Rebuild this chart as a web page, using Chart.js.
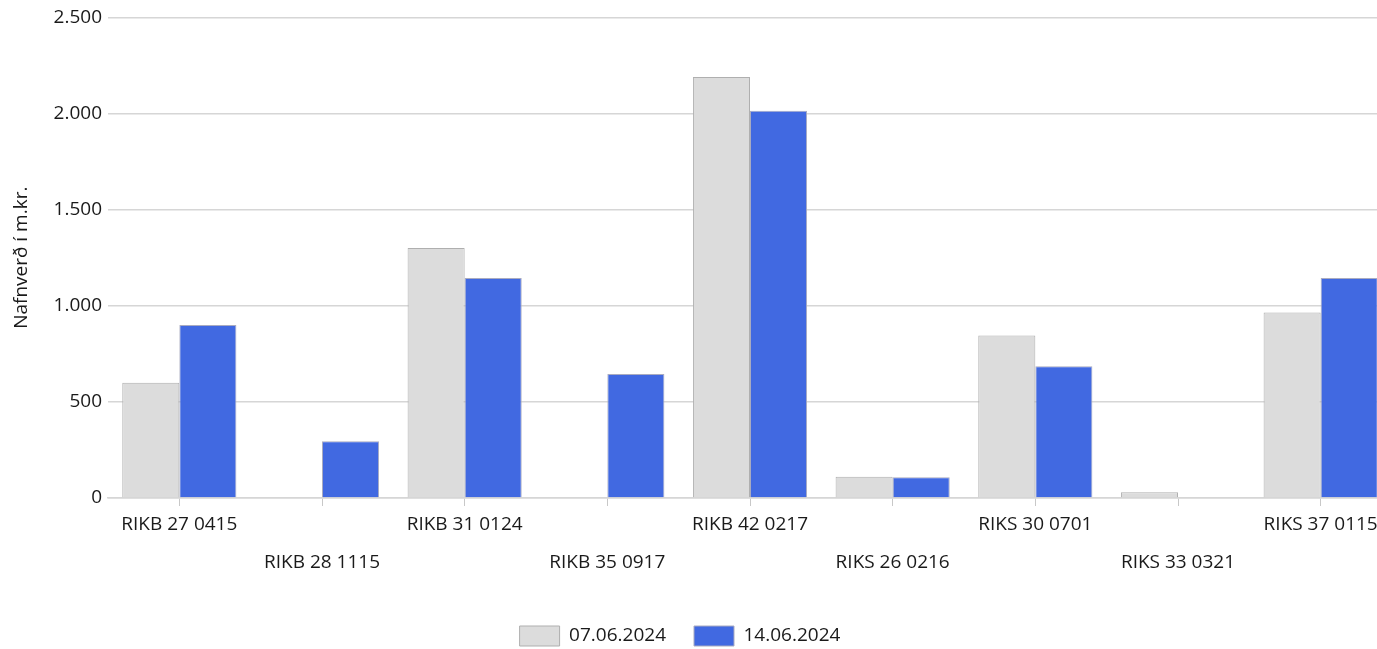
<!DOCTYPE html>
<html>
<head>
<meta charset="utf-8">
<script src="https://cdn.jsdelivr.net/npm/chart.js@4/dist/chart.umd.min.js"></script>
<style>
  html, body { margin: 0; padding: 0; background: #fff; overflow: hidden; }
  #wrap { width: 1377px; height: 649px; overflow: hidden; }
  #box { width: 1392px; height: 649px; position: relative; }
</style>
</head>
<body>
<div id="wrap"><div id="box"><canvas id="chart"></canvas></div></div>
<script>
const categories = [
  "RIKB 27 0415", "RIKB 28 1115", "RIKB 31 0124", "RIKB 35 0917", "RIKB 42 0217",
  "RIKS 26 0216", "RIKS 30 0701", "RIKS 33 0321", "RIKS 37 0115"
];
const seriesNames = ["07.06.2024", "14.06.2024"];
const valuesJun07 = [600, null, 1300, null, 2190, 110, 845, 30, 965];
const valuesJun14 = [900, 295, 1145, 645, 2015, 108, 685, null, 1145];
const yTicks = [0, 500, 1000, 1500, 2000, 2500];

const font = "'Open Sans', 'DejaVu Sans', sans-serif";
const textColor = "#1a1a1a";
const gridColor = "#d6d6d6";

// staggered category labels: every other one drops to a second row
const labels = categories.map((c, i) => i % 2 ? ["", c] : c);

const fmt = v => String(v).replace(/\B(?=(\d{3})+(?!\d))/g, ".");

// legend sits centred on the visible 1377px width, not the wider canvas
const shiftLegend = {
  id: "shiftLegend",
  afterLayout(chart) {
    const lg = chart.legend;
    if (!lg) return;
    lg.left -= 16;
    lg.right -= 16;
  }
};

new Chart(document.getElementById("chart"), {
  type: "bar",
  data: {
    labels,
    datasets: [
      {
        label: seriesNames[0],
        data: valuesJun07,
        backgroundColor: "#dcdcdc",
        borderColor: "#afafaf",
        borderWidth: 1
      },
      {
        label: seriesNames[1],
        data: valuesJun14,
        backgroundColor: "#4169e1",
        borderColor: "#a9abc0",
        borderWidth: 1
      }
    ]
  },
  plugins: [shiftLegend],
  options: {
    responsive: true,
    maintainAspectRatio: false,
    animation: false,
    layout: { padding: { top: 17, left: 0, right: 0, bottom: -7 } },
    datasets: {
      bar: { categoryPercentage: 0.8, barPercentage: 1 }
    },
    plugins: {
      tooltip: { enabled: false },
      legend: {
        position: "bottom",
        labels: {
          boxWidth: 40,
          boxHeight: 20,
          padding: 28,
          color: textColor,
          font: { family: font, size: 19 }
        }
      }
    },
    scales: {
      x: {
        offset: true,
        afterFit: s => { s.height = 100; },
        grid: {
          offset: false,
          drawOnChartArea: false,
          drawTicks: true,
          tickLength: 8,
          color: "#c8c8c8"
        },
        border: { display: true, color: gridColor, width: 1.5 },
        ticks: {
          autoSkip: false,
          maxRotation: 0,
          minRotation: 0,
          padding: 0,
          color: textColor,
          font: { family: font, size: 19, lineHeight: 2 }
        }
      },
      y: {
        min: 0,
        max: 2500,
        afterBuildTicks: s => { s.ticks = yTicks.map(v => ({ value: v })); },
        afterFit: s => { s.width = 108; },
        grid: { color: gridColor, lineWidth: 1.5, drawTicks: false },
        border: { display: false },
        ticks: {
          padding: 6,
          color: textColor,
          font: { family: font, size: 19 },
          callback: v => fmt(v)
        },
        title: {
          display: true,
          text: "Nafnverð í m.kr.",
          color: textColor,
          padding: { top: 10, bottom: 0 },
          font: { family: font, size: 19 }
        }
      }
    }
  }
});
</script>
</body>
</html>
